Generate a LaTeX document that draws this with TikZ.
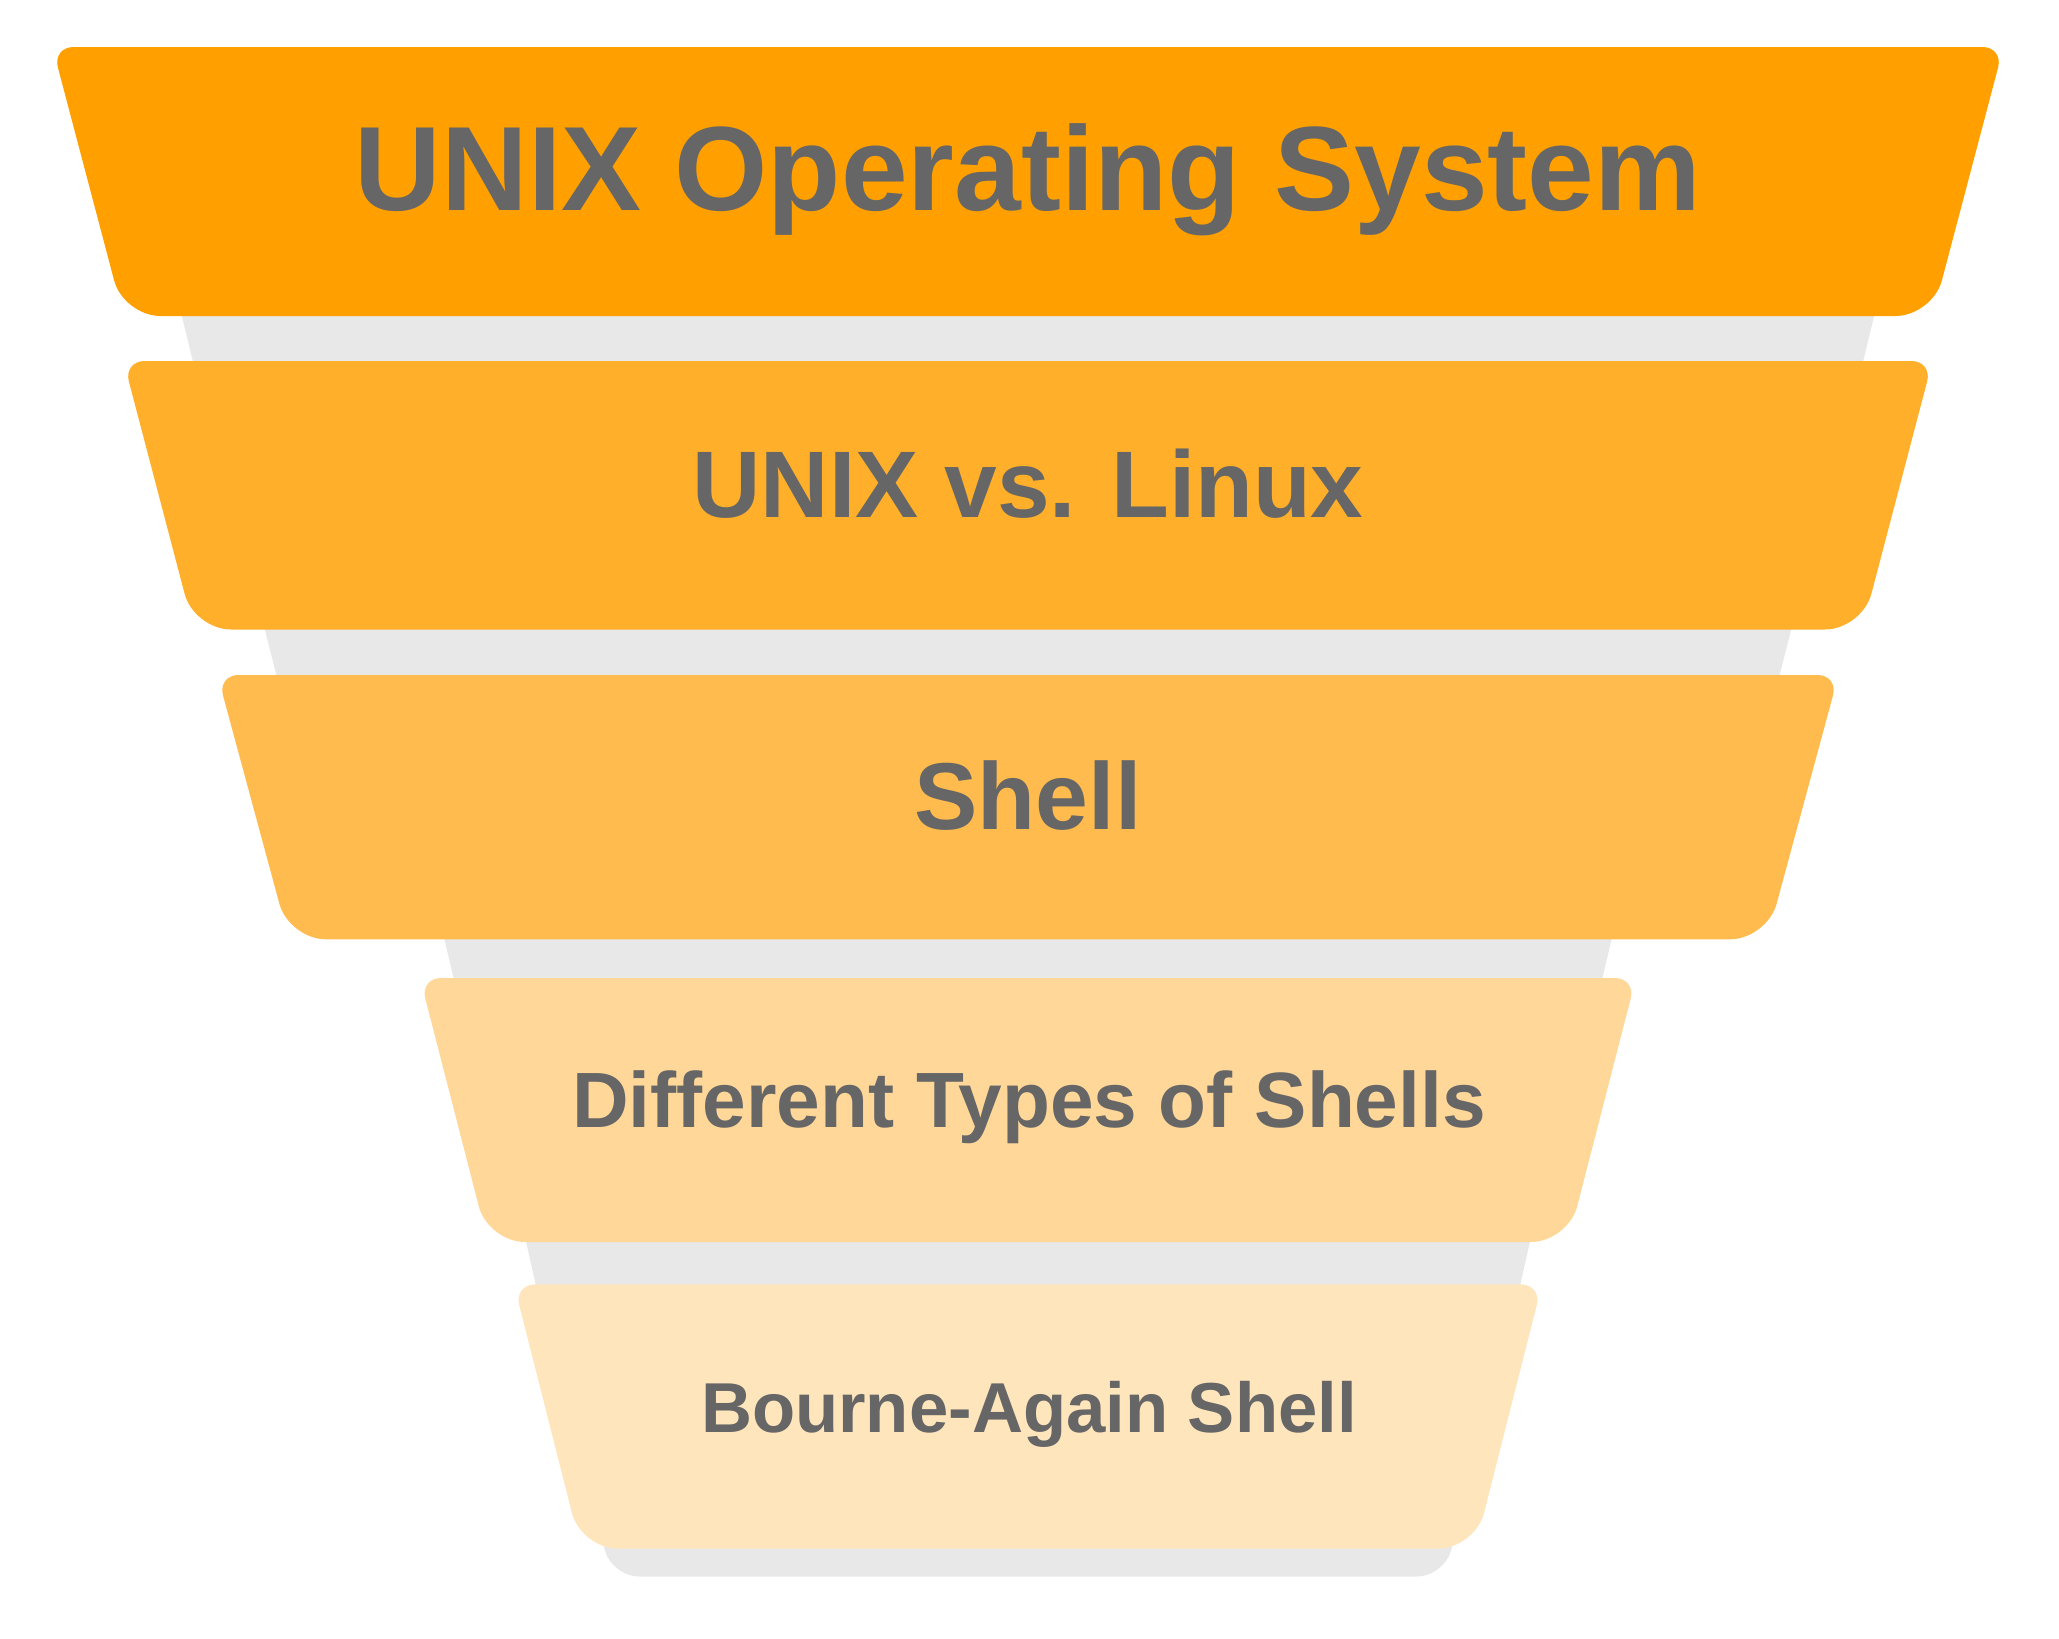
\documentclass[tikz,border=0pt]{standalone}
\usepackage{fontspec}
\setmainfont{Liberation Sans}
\usepackage{tikz}

\definecolor{tierA}{HTML}{FFA000}
\definecolor{tierB}{HTML}{FFAF2A}
\definecolor{tierC}{HTML}{FFBB4D}
\definecolor{tierD}{HTML}{FFD899}
\definecolor{tierE}{HTML}{FFE5BC}
\definecolor{gapgray}{HTML}{E8E8E8}
\definecolor{inkgray}{HTML}{666666}

\begin{document}
\begin{tikzpicture}[x=0.01cm, y=-0.01cm,
    gap/.style={fill=gapgray},
    lbl/.style={text=inkgray, font=\bfseries, anchor=base, inner sep=0pt}]
  \useasboundingbox (0,0) rectangle (2059,1639);
  % grey backs between the tiers
  \fill[gap] (178,300) -- (1878,300) -- (1861,370) -- (195,370) -- cycle;
  \fill[gap] (261,615) -- (1795,615) -- (1777,685) -- (279,685) -- cycle;
  \fill[gap] (441,925) -- (1615,925) -- (1600,988) -- (456,988) -- cycle;
  \fill[gap] (523,1228) -- (1533,1228) -- (1518,1295) -- (538,1295) -- cycle;
  \fill[gap] (1028,1530) -- (600,1530) [rounded corners=8pt] -- (611,1576.5) -- (1445,1576.5) [sharp corners] -- (1456,1530) -- cycle;
  % tiers
  \fill[tierA] (1028,47) [rounded corners=6pt] -- (52.5,47) [rounded corners=10.5pt] -- (123.5,316) -- (1932.5,316) [rounded corners=6pt] -- (2003.5,47) -- cycle;
  \fill[tierB] (1028,361) [rounded corners=6pt] -- (123.5,361) [rounded corners=10.5pt] -- (194,629.5) -- (1862,629.5) [rounded corners=6pt] -- (1932.5,361) -- cycle;
  \fill[tierC] (1028,675) [rounded corners=6pt] -- (217.5,675) [rounded corners=10.5pt] -- (289,939.3) -- (1767,939.3) [rounded corners=6pt] -- (1838.5,675) -- cycle;
  \fill[tierD] (1028,978) [rounded corners=6pt] -- (420,978) [rounded corners=10.5pt] -- (488,1242) -- (1568,1242) [rounded corners=6pt] -- (1636,978) -- cycle;
  \fill[tierE] (1028,1284.4) [rounded corners=6pt] -- (514,1284.4) [rounded corners=10.5pt] -- (581,1548.6) -- (1475,1548.6) [rounded corners=6pt] -- (1542,1284.4) -- cycle;
  % labels
  \node[lbl, font=\fontsize{34.1}{41}\selectfont\bfseries] (title) at (1028,210) {UNIX Operating System};
  \node[lbl, font=\fontsize{26.9}{32}\selectfont\bfseries] (versus) at (1028,517) {UNIX vs. Linux};
  \node[lbl, font=\fontsize{27}{32}\selectfont\bfseries] (shell) at (1028,829) {Shell};
  \node[lbl, font=\fontsize{22.3}{26}\selectfont\bfseries] (types) at (1029,1127) {Different Types of Shells};
  \node[lbl, font=\fontsize{20.1}{24}\selectfont\bfseries] (bash) at (1029,1432) {Bourne-Again Shell};
\end{tikzpicture}
\end{document}
